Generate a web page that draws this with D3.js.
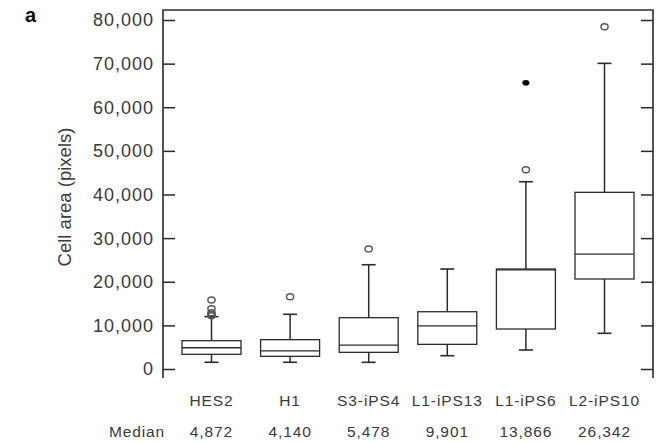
<!DOCTYPE html>
<html>
<head>
<meta charset="utf-8">
<script src="https://cdn.jsdelivr.net/npm/d3@7"></script>
<style>
  html, body { margin: 0; padding: 0; background: #fff; }
  svg { display: block; font-family: "Liberation Sans", Arial, sans-serif; }
</style>
</head>
<body>
<svg id="chart" width="660" height="442"></svg>
<script>
// ---- data ----
const groups   = ['HES2', 'H1', 'S3-iPS4', 'L1-iPS13', 'L1-iPS6', 'L2-iPS10'];
const medianText = ['4,872', '4,140', '5,478', '9,901', '13,866', '26,342'];
const medians  = [4872, 4140, 5478, 9901, 22700, 26342];   // line drawn inside the box
const q1       = [3370, 2910, 3820, 5650, 9170, 20630];
const q3       = [6490, 6720, 11760, 13130, 22920, 40500];
const whiskLo  = [1540, 1540, 1530, 3050, 4350, 8180];
const whiskHi  = [12000, 12540, 23900, 22920, 42930, 70060];
const outliers = [[15800, 13800, 12900, 12500, 12200], [16570], [27500], [], [45680], [78450]];
const extremes = [[], [], [], [], [65620], []];
const yTicks   = [0, 10000, 20000, 30000, 40000, 50000, 60000, 70000, 80000];

// ---- layout ----
const M = { left: 163, right: 653, top: 10, bottom: 378 };
const svg = d3.select('#chart');
const ink = '#2b2b2b';
const txt = '#3a3a3a';

const x = d3.scalePoint().domain(groups).range([M.left, M.right]).padding(0.617);
const y = d3.scaleLinear().domain([0, 80000]).range([369, 20]);
const boxW = 59, capW = 14;
const fmt = d3.format(',');

// frame (no bottom line)
svg.append('path')
  .attr('d', `M${M.left},${M.bottom}V${M.top}H${M.right}V${M.bottom}`)
  .attr('fill', 'none').attr('stroke', ink).attr('stroke-width', 1.6);

// left axis, ticks pointing inward
const yAxisL = d3.axisRight(y).tickValues(yTicks).tickSize(12).tickFormat('');
svg.append('g').attr('transform', `translate(${M.left},0)`).call(yAxisL)
  .call(g => g.select('.domain').remove())
  .call(g => g.selectAll('.tick line').attr('stroke', ink).attr('stroke-width', 1.5));

// right axis ticks
const yAxisR = d3.axisLeft(y).tickValues(yTicks).tickSize(12).tickFormat('');
svg.append('g').attr('transform', `translate(${M.right},0)`).call(yAxisR)
  .call(g => g.select('.domain').remove())
  .call(g => g.selectAll('.tick line').attr('stroke', ink).attr('stroke-width', 1.5));

// tick labels
svg.append('g').selectAll('text').data(yTicks).join('text')
  .attr('x', 154).attr('y', d => y(d)).attr('dy', '0.36em')
  .attr('text-anchor', 'end')
  .attr('font-size', 18).attr('letter-spacing', 1).attr('fill', txt)
  .text(d => fmt(d));

// y title
svg.append('text')
  .attr('transform', 'translate(71,197) rotate(-90)')
  .attr('text-anchor', 'middle')
  .attr('font-size', 18.5).attr('fill', txt)
  .text('Cell area (pixels)');

// panel letter
svg.append('text').attr('x', 25).attr('y', 22)
  .attr('font-size', 20).attr('font-weight', 'bold').attr('fill', '#111')
  .text('a');

// ---- boxes ----
const boxes = svg.append('g').selectAll('g').data(groups).join('g');

boxes.each(function (name, i) {
  const g = d3.select(this);
  const cx = x(name);
  // whiskers
  g.append('line').attr('x1', cx).attr('x2', cx).attr('y1', y(q3[i])).attr('y2', y(whiskHi[i]))
    .attr('stroke', ink).attr('stroke-width', 1.5);
  g.append('line').attr('x1', cx).attr('x2', cx).attr('y1', y(q1[i])).attr('y2', y(whiskLo[i]))
    .attr('stroke', ink).attr('stroke-width', 1.5);
  [whiskHi[i], whiskLo[i]].forEach(v => {
    g.append('line').attr('x1', cx - capW / 2).attr('x2', cx + capW / 2)
      .attr('y1', y(v)).attr('y2', y(v))
      .attr('stroke', ink).attr('stroke-width', 1.6);
  });
  // box
  g.append('rect')
    .attr('x', cx - boxW / 2).attr('width', boxW)
    .attr('y', y(q3[i])).attr('height', y(q1[i]) - y(q3[i]))
    .attr('fill', '#fff').attr('stroke', ink).attr('stroke-width', 1.3);
  // median
  g.append('line').attr('x1', cx - boxW / 2).attr('x2', cx + boxW / 2)
    .attr('y1', y(medians[i])).attr('y2', y(medians[i]))
    .attr('stroke', ink).attr('stroke-width', 1.3);
  // outliers
  g.selectAll('ellipse.out').data(outliers[i]).join('ellipse')
    .attr('class', 'out')
    .attr('cx', cx).attr('cy', d => y(d)).attr('rx', 3.6).attr('ry', 3)
    .attr('fill', 'none').attr('stroke', '#555').attr('stroke-width', 1.4);
  g.selectAll('ellipse.ext').data(extremes[i]).join('ellipse')
    .attr('class', 'ext')
    .attr('cx', cx).attr('cy', d => y(d)).attr('rx', 3.6).attr('ry', 2.8)
    .attr('fill', '#000');
});

// ---- category labels and median row ----
svg.append('g').selectAll('text').data(groups).join('text')
  .attr('x', d => x(d)).attr('y', 406)
  .attr('text-anchor', 'middle')
  .attr('font-size', 15.5).attr('letter-spacing', 0.9).attr('fill', txt)
  .text(d => d);

svg.append('g').selectAll('text').data(medianText).join('text')
  .attr('x', (d, i) => x(groups[i])).attr('y', 437)
  .attr('text-anchor', 'middle')
  .attr('font-size', 15.5).attr('letter-spacing', 0.9).attr('fill', txt)
  .text(d => d);

svg.append('text').attr('x', 137).attr('y', 437)
  .attr('text-anchor', 'middle')
  .attr('font-size', 15.5).attr('letter-spacing', 0.9).attr('fill', txt)
  .text('Median');
</script>
</body>
</html>
